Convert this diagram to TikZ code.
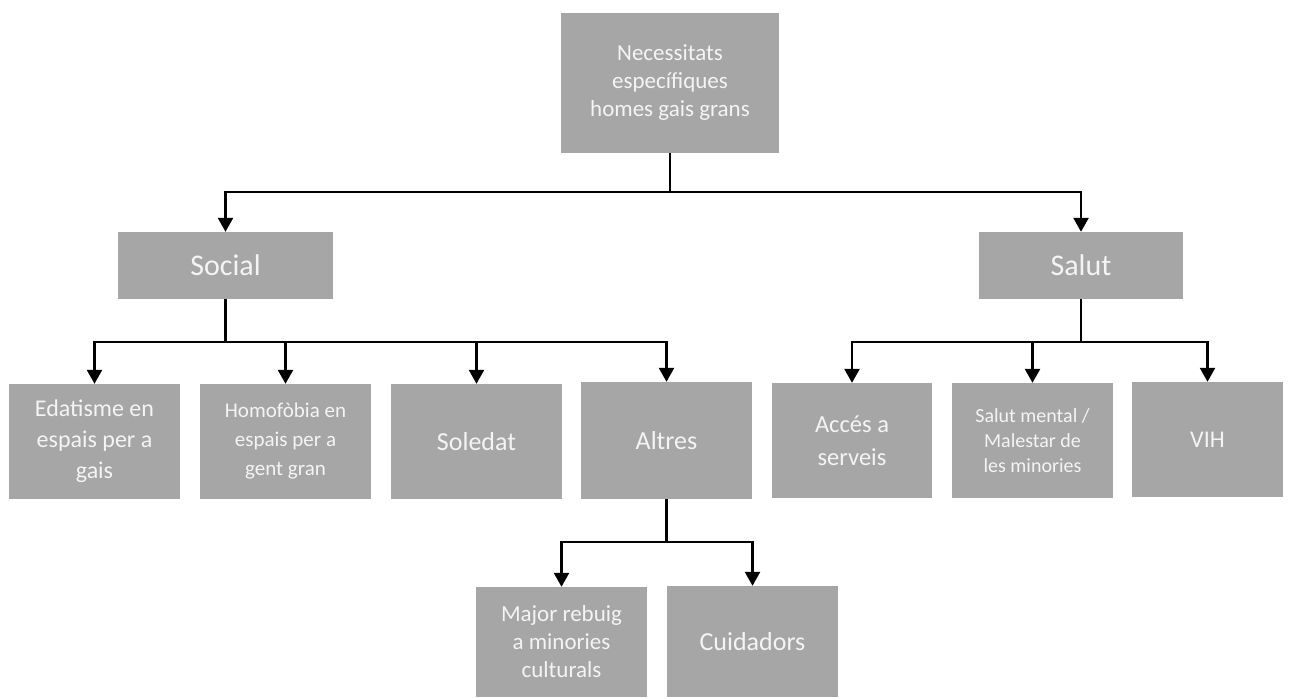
\documentclass[tikz,border=0pt]{standalone}
\usepackage{fontspec}
\setmainfont{Carlito}
\usetikzlibrary{arrows.meta}

\definecolor{caixagris}{HTML}{A6A6A6}
\definecolor{textclar}{HTML}{F4F4F4}

\tikzset{
    caixa/.style = {fill = caixagris, text = textclar, inner sep = 0pt, align = center},
    fletxa/.style = {line width = 2.5pt, -{Triangle[length = 14pt, width = 15pt]}},
}

\newcommand{\mida}[2]{\fontsize{#1}{#2}\selectfont}

\begin{document}
\begin{tikzpicture}[x = 1pt, y = -1pt]
    % Marc de la imatge
        \useasboundingbox (0, 0) rectangle (1314, 697);

    % Arrel
        \node[caixa, minimum width = 218, minimum height = 140, font = \mida{23}{28}] (arrel) at (670, 83) {Necessitats\\específiques\\homes gais grans};

    % 1r nivell
        \node[caixa, minimum width = 215, minimum height = 67, font = \mida{30}{36}] (social) at (225.5, 265.5) {Social};
        \node[caixa, minimum width = 204, minimum height = 67, font = \mida{30}{36}] (salut) at (1081, 265.5) {Salut};

    % 2n nivell (Social)
        \node[caixa, minimum width = 171, minimum height = 115, font = \mida{24}{31}] (edatisme) at (94.5, 441.5) {Edatisme en\\espais per a\\gais};
        \node[caixa, minimum width = 171, minimum height = 115, font = \mida{21}{29}] (homofobia) at (285.5, 441.5) {Homofòbia en\\espais per a\\gent gran};
        \node[caixa, minimum width = 171, minimum height = 115, font = \mida{26}{32}] (soledat) at (476.5, 441.5) {Soledat};
        \node[caixa, minimum width = 171, minimum height = 117, font = \mida{26}{32}] (altres) at (666.5, 440.5) {Altres};

    % 2n nivell (Salut)
        \node[caixa, minimum width = 160, minimum height = 115, font = \mida{24.5}{33}] (acces) at (852, 440.5) {Accés a\\serveis};
        \node[caixa, minimum width = 161, minimum height = 115, font = \mida{20}{25}] (mental) at (1032.5, 440.5) {Salut mental /\\Malestar de\\les minories};
        \node[caixa, minimum width = 151, minimum height = 115, font = \mida{24}{30}] (vih) at (1207.5, 439.5) {VIH};

    % 3r nivell (Altres)
        \node[caixa, minimum width = 171, minimum height = 110, font = \mida{23}{28}] (rebuig) at (561.5, 642) {Major rebuig\\a minories\\culturals};
        \node[caixa, minimum width = 171, minimum height = 111, font = \mida{26}{32}] (cuidadors) at (752.5, 641.5) {Cuidadors};

    % Connexions
        \draw[fletxa] (arrel.south) -- ++(0, 39) -| (social.north);
        \draw[fletxa] (arrel.south) -- ++(0, 39) -| (salut.north);

        \draw[fletxa] (social.south) -- ++(0, 43) -| (edatisme.north);
        \draw[fletxa] (social.south) -- ++(0, 43) -| (homofobia.north);
        \draw[fletxa] (social.south) -- ++(0, 43) -| (soledat.north);
        \draw[fletxa] (social.south) -- ++(0, 43) -| (altres.north);

        \draw[fletxa] (salut.south) -- ++(0, 43) -| (acces.north);
        \draw[fletxa] (salut.south) -- ++(0, 43) -| (mental.north);
        \draw[fletxa] (salut.south) -- ++(0, 43) -| (vih.north);

        \draw[fletxa] (altres.south) -- ++(0, 43) -| (rebuig.north);
        \draw[fletxa] (altres.south) -- ++(0, 43) -| (cuidadors.north);
\end{tikzpicture}
\end{document}
